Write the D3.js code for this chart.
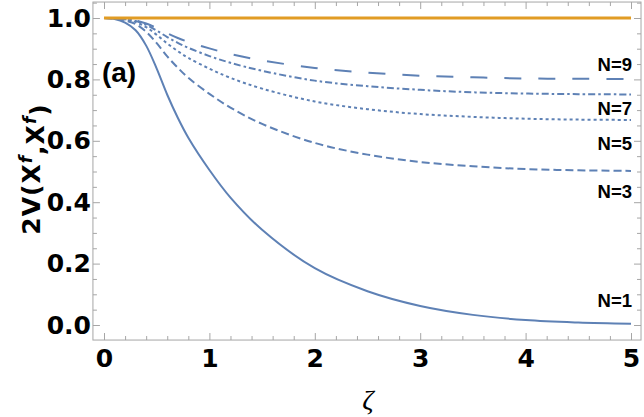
<!DOCTYPE html>
<html>
<head>
<meta charset="utf-8">
<script src="https://cdn.jsdelivr.net/npm/d3@7"></script>
<style>
  body { margin: 0; background: #fff; }
</style>
</head>
<body>
<div id="chart"></div>
<script>
// values
const zeta = [0, 0.1, 0.2, 0.3, 0.4, 0.5, 0.6, 0.7, 0.8, 1.0, 1.2, 1.5, 2.0, 2.5, 3.0, 3.5, 4.0, 4.5, 5.0];
const n1 = [1, 0.997, 0.985, 0.96, 0.91, 0.835, 0.75, 0.675, 0.61, 0.505, 0.415, 0.31, 0.185, 0.11, 0.062, 0.033, 0.016, 0.008, 0.004];
const n3 = [1, 0.998, 0.992, 0.98, 0.955, 0.918, 0.875, 0.838, 0.805, 0.753, 0.708, 0.655, 0.593, 0.555, 0.531, 0.517, 0.508, 0.504, 0.502];
const n5 = [1, 0.999, 0.995, 0.987, 0.97, 0.945, 0.917, 0.892, 0.87, 0.835, 0.805, 0.77, 0.728, 0.703, 0.687, 0.678, 0.672, 0.669, 0.668];
const n7 = [1, 0.999, 0.996, 0.99, 0.978, 0.959, 0.938, 0.919, 0.903, 0.876, 0.854, 0.828, 0.796, 0.778, 0.766, 0.758, 0.754, 0.752, 0.751];
const n9 = [1, 0.999, 0.997, 0.992, 0.982, 0.967, 0.95, 0.935, 0.922, 0.901, 0.883, 0.862, 0.837, 0.822, 0.812, 0.807, 0.803, 0.802, 0.801];
const ref = [1, 1];
const refZeta = [0, 5];

const labels = ['N=1', 'N=3', 'N=5', 'N=7', 'N=9'];
const labelY = [0.058, 0.413, 0.57, 0.684, 0.828];

const xTicks = [0, 1, 2, 3, 4, 5];
const yTicks = [0, 0.2, 0.4, 0.6, 0.8, 1.0];

const width = 644;
const height = 417;

const x = d3.scaleLinear().domain([0, 5]).range([104, 631]);
const y = d3.scaleLinear().domain([0, 1]).range([325, 18]);

// frame extents in data units
const xMin = -0.105, xMax = 5.095;
const yMin = -0.049, yMax = 1.052;

const blue = '#5e81b5';
const orange = '#e19c24';
const gray = '#a6a6a6';

const svg = d3.select('#chart')
  .append('svg')
  .attr('width', width)
  .attr('height', height);

const fLeft = x(xMin), fRight = x(xMax), fTop = y(yMax), fBottom = y(yMin);

// minor ticks
const xMinor = d3.range(0, 26).map(i => i * 0.2).filter(v => Math.abs(v - Math.round(v)) > 1e-6);
const yMinor = d3.range(-1, 22).map(i => i * 0.05).filter(v => v >= yMin && v <= yMax && Math.abs(v * 5 - Math.round(v * 5)) > 1e-6);

function noDomain(g) { g.select('.domain').remove(); }

// bottom
svg.append('g').attr('transform', `translate(0,${fBottom})`)
  .call(d3.axisBottom(x).tickValues(xTicks).tickSizeInner(-7).tickSizeOuter(0).tickPadding(9).tickFormat(d3.format('d')))
  .call(noDomain);
svg.append('g').attr('transform', `translate(0,${fBottom})`)
  .call(d3.axisBottom(x).tickValues(xMinor).tickSizeInner(-4).tickSizeOuter(0).tickFormat(''))
  .call(noDomain);
// top
svg.append('g').attr('transform', `translate(0,${fTop})`)
  .call(d3.axisTop(x).tickValues(xTicks).tickSizeInner(-7).tickSizeOuter(0).tickFormat(''))
  .call(noDomain);
svg.append('g').attr('transform', `translate(0,${fTop})`)
  .call(d3.axisTop(x).tickValues(xMinor).tickSizeInner(-4).tickSizeOuter(0).tickFormat(''))
  .call(noDomain);
// left
svg.append('g').attr('transform', `translate(${fLeft},0)`)
  .call(d3.axisLeft(y).tickValues(yTicks).tickSizeInner(-7).tickSizeOuter(0).tickPadding(2).tickFormat(d3.format('.1f')))
  .call(noDomain);
svg.append('g').attr('transform', `translate(${fLeft},0)`)
  .call(d3.axisLeft(y).tickValues(yMinor).tickSizeInner(-4).tickSizeOuter(0).tickFormat(''))
  .call(noDomain);
// right
svg.append('g').attr('transform', `translate(${fRight},0)`)
  .call(d3.axisRight(y).tickValues(yTicks).tickSizeInner(-7).tickSizeOuter(0).tickFormat(''))
  .call(noDomain);
svg.append('g').attr('transform', `translate(${fRight},0)`)
  .call(d3.axisRight(y).tickValues(yMinor).tickSizeInner(-4).tickSizeOuter(0).tickFormat(''))
  .call(noDomain);

svg.selectAll('.tick line').attr('stroke', gray).attr('stroke-width', 1);
svg.selectAll('.tick text')
  .attr('fill', '#000')
  .style('font-family', '"DejaVu Sans", sans-serif')
  .style('font-weight', 'bold')
  .style('font-size', '25px');

// frame
svg.append('rect')
  .attr('x', fLeft).attr('y', fTop)
  .attr('width', fRight - fLeft).attr('height', fBottom - fTop)
  .attr('fill', 'none').attr('stroke', gray).attr('stroke-width', 1);

const line = d3.line()
  .x(d => x(d[0]))
  .y(d => y(d[1]))
  .curve(d3.curveCatmullRom.alpha(0.5));

const series = [
  { vals: n9, dash: '17,17' },
  { vals: n7, dash: '7,3,2.5,3' },
  { vals: n5, dash: '3,3' },
  { vals: n3, dash: '8,4' },
  { vals: n1, dash: null }
];

series.forEach(s => {
  svg.append('path')
    .datum(zeta.map((z, i) => [z, s.vals[i]]))
    .attr('d', line)
    .attr('fill', 'none')
    .attr('stroke', blue)
    .attr('stroke-width', 2)
    .attr('stroke-dasharray', s.dash);
});

svg.append('path')
  .datum(refZeta.map((z, i) => [z, ref[i]]))
  .attr('d', line)
  .attr('fill', 'none')
  .attr('stroke', orange)
  .attr('stroke-width', 2.8);

// curve labels
svg.selectAll('.nlab')
  .data(labels)
  .enter()
  .append('text')
  .attr('class', 'nlab')
  .attr('x', x(5) + 1)
  .attr('y', (d, i) => y(labelY[i]))
  .attr('text-anchor', 'end')
  .style('font-family', '"Liberation Sans", Arial, sans-serif')
  .style('font-weight', 'bold')
  .style('font-size', '18.5px')
  .text(d => d);

// panel tag
svg.append('text')
  .attr('x', x(-0.02))
  .attr('y', 82)
  .style('font-family', '"Liberation Sans", Arial, sans-serif')
  .style('font-weight', 'bold')
  .style('font-size', '28px')
  .text('(a)');

// x axis title
svg.append('text')
  .attr('x', 368)
  .attr('y', 409)
  .attr('text-anchor', 'middle')
  .style('font-family', '"Liberation Serif", serif')
  .style('font-style', 'italic')
  .style('font-size', '28px')
  .text('ζ');

// y axis title
const yt = svg.append('text')
  .attr('transform', 'translate(40,169) rotate(-90)')
  .attr('text-anchor', 'middle')
  .style('font-family', '"DejaVu Sans", sans-serif')
  .style('font-weight', 'bold')
  .style('font-size', '25px')
  .style('letter-spacing', '1px');
yt.append('tspan').text('2V(X');
yt.append('tspan').attr('dy', '-0.5em').style('font-size', '17px').style('font-style', 'italic').text('f');
yt.append('tspan').attr('dy', '0.5em').text(',X');
yt.append('tspan').attr('dy', '-0.5em').style('font-size', '17px').style('font-style', 'italic').text('f');
yt.append('tspan').attr('dy', '0.5em').text(')');
</script>
</body>
</html>
